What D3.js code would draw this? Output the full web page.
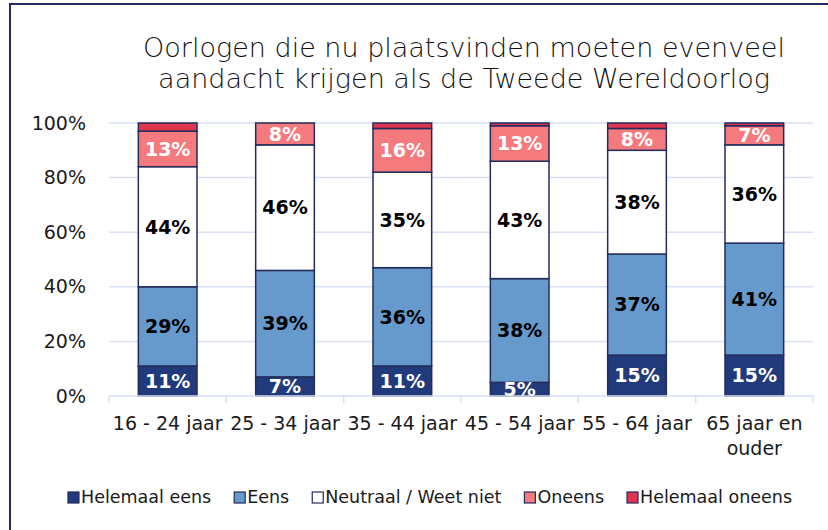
<!DOCTYPE html>
<html>
<head>
<meta charset="utf-8">
<script src="https://cdn.jsdelivr.net/npm/d3@7"></script>
<style>
	body { margin: 0; background: #fff; }
	svg { display: block; font-family: "DejaVu Sans", sans-serif; }
</style>
</head>
<body>
<div id="chart"></div>
<script>
// Data
var categories = ["16 - 24 jaar", "25 - 34 jaar", "35 - 44 jaar", "45 - 54 jaar", "55 - 64 jaar", "65 jaar en ouder"];
var seriesNames = ["Helemaal eens", "Eens", "Neutraal / Weet niet", "Oneens", "Helemaal oneens"];
var helemaalEens = [11, 7, 11, 5, 15, 15];
var eens = [29, 39, 36, 38, 37, 41];
var neutraal = [44, 46, 35, 43, 38, 36];
var oneens = [13, 8, 16, 13, 8, 7];
var helemaalOneens = [3, 0, 2, 1, 2, 1];
var yTicks = [0, 20, 40, 60, 80, 100];
var titleLines = ["Oorlogen die nu plaatsvinden moeten evenveel", "aandacht krijgen als de Tweede Wereldoorlog"];

var seriesValues = [helemaalEens, eens, neutraal, oneens, helemaalOneens];
var colours = ["#213a7b", "#6699cc", "#ffffff", "#f47a7e", "#e0354f"];
var labelColours = ["#ffffff", "#000000", "#000000", "#ffffff", null];

function loadChart() {

	///////////////////////////////////////////////////////////////////////////
	//////////////////////////// Set up the svg ///////////////////////////////
	///////////////////////////////////////////////////////////////////////////

	var svgW = 828,
		svgH = 530;
	var plot = { left: 109, right: 813, top: 123, bottom: 396 };

	var svg = d3.select("#chart")
		.append("svg")
		.attr("width", svgW)
		.attr("height", svgH);

	// Frame of the chart area (only left and top edge are visible)
	svg.append("path")
		.attr("d", "M10," + svgH + "V4H" + svgW)
		.attr("fill", "none")
		.attr("stroke", "#262d5e")
		.attr("stroke-width", 2);

	// Title
	svg.append("g")
		.selectAll("text")
		.data(titleLines)
		.enter()
		.append("text")
		.attr("x", 464)
		.attr("y", function(d, i) { return 57 + i * 31; })
		.attr("text-anchor", "middle")
		.attr("font-size", 27)
		.attr("font-weight", 300)
		.attr("fill", "#111")
		.text(function(d) { return d; });

	///////////////////////////////////////////////////////////////////////////
	//////////////////////////////// Scales ///////////////////////////////////
	///////////////////////////////////////////////////////////////////////////

	var x = d3.scaleBand()
		.domain(categories)
		.range([plot.left, plot.right])
		.paddingInner(0.5)
		.paddingOuter(0.25);

	var y = d3.scaleLinear()
		.domain([0, 100])
		.range([plot.bottom, plot.top]);

	// Gridlines
	svg.append("g")
		.selectAll("line")
		.data(yTicks.filter(function(d) { return d > 0; }))
		.enter()
		.append("line")
		.attr("x1", plot.left)
		.attr("x2", plot.right)
		.attr("y1", function(d) { return y(d); })
		.attr("y2", function(d) { return y(d); })
		.attr("stroke", "#d9dff4")
		.attr("stroke-width", 1.5);

	// Y axis labels
	var yAxis = d3.axisLeft(y)
		.tickValues(yTicks)
		.tickSize(0)
		.tickPadding(23)
		.tickFormat(function(d) { return d + "%"; });

	var gY = svg.append("g")
		.attr("transform", "translate(" + plot.left + ",0)")
		.call(yAxis);
	gY.select(".domain").remove();
	gY.selectAll("text")
		.attr("font-family", "DejaVu Sans, sans-serif")
		.attr("font-size", 19)
		.attr("fill", "#1a1a1a");

	///////////////////////////////////////////////////////////////////////////
	///////////////////////////////// Bars ////////////////////////////////////
	///////////////////////////////////////////////////////////////////////////

	var table = categories.map(function(c, i) {
		var row = { category: c };
		seriesNames.forEach(function(s, j) { row[s] = seriesValues[j][i]; });
		return row;
	});

	var stacked = d3.stack().keys(seriesNames)(table);

	svg.append("clipPath")
		.attr("id", "plot-area")
		.append("rect")
		.attr("x", plot.left)
		.attr("y", 0)
		.attr("width", plot.right - plot.left)
		.attr("height", plot.bottom);

	var layers = svg.append("g")
		.selectAll("g")
		.data(stacked)
		.enter()
		.append("g")
		.attr("fill", function(d, i) { return colours[i]; });

	layers.selectAll("rect")
		.data(function(d) { return d; })
		.enter()
		.append("rect")
		.attr("x", function(d) { return x(d.data.category); })
		.attr("width", x.bandwidth())
		.attr("y", function(d) { return y(d[1]); })
		.attr("height", function(d) { return y(d[0]) - y(d[1]); })
		.attr("stroke", "#232c5c")
		.attr("stroke-width", 1.5);

	// Data labels (clipped at the axis like the original)
	var labels = svg.append("g")
		.attr("clip-path", "url(#plot-area)");

	stacked.forEach(function(layer, i) {
		if (!labelColours[i]) return;
		labels.append("g")
			.selectAll("text")
			.data(layer.filter(function(d) { return d[1] - d[0] > 0; }))
			.enter()
			.append("text")
			.attr("x", function(d) { return x(d.data.category) + x.bandwidth() / 2; })
			.attr("y", function(d) { return y((d[0] + d[1]) / 2); })
			.attr("dy", "0.36em")
			.attr("text-anchor", "middle")
			.attr("font-size", 19)
			.attr("font-weight", "bold")
			.attr("fill", labelColours[i])
			.text(function(d) { return Math.round(d[1] - d[0]) + "%"; });
	});

	///////////////////////////////////////////////////////////////////////////
	//////////////////////////////// X axis ///////////////////////////////////
	///////////////////////////////////////////////////////////////////////////

	var axisColour = "#d9dff4";
	svg.append("line")
		.attr("x1", plot.left)
		.attr("x2", plot.right)
		.attr("y1", plot.bottom)
		.attr("y2", plot.bottom)
		.attr("stroke", axisColour)
		.attr("stroke-width", 1.5);

	// Tick marks between categories
	var boundaries = categories.map(function(c) { return x(c) - x.step() * x.paddingOuter(); });
	boundaries.push(plot.right);
	svg.append("g")
		.selectAll("line")
		.data(boundaries)
		.enter()
		.append("line")
		.attr("x1", function(d) { return d; })
		.attr("x2", function(d) { return d; })
		.attr("y1", plot.bottom)
		.attr("y2", plot.bottom + 7)
		.attr("stroke", axisColour)
		.attr("stroke-width", 1.5);

	// Category labels, the last one is wrapped on two lines
	var wrapped = { "65 jaar en ouder": ["65 jaar en", "ouder"] };
	var xLabels = svg.append("g")
		.selectAll("text")
		.data(categories)
		.enter()
		.append("text")
		.attr("x", function(d) { return x(d) + x.bandwidth() / 2; })
		.attr("y", 430)
		.attr("text-anchor", "middle")
		.attr("font-size", 19)
		.attr("fill", "#1a1a1a");

	xLabels.each(function(d) {
		var lines = wrapped[d] || [d];
		var t = d3.select(this);
		lines.forEach(function(l, i) {
			t.append("tspan")
				.attr("x", t.attr("x"))
				.attr("dy", i === 0 ? 0 : 25)
				.text(l);
		});
	});

	///////////////////////////////////////////////////////////////////////////
	//////////////////////////////// Legend ///////////////////////////////////
	///////////////////////////////////////////////////////////////////////////

	var legend = svg.append("g");
	var items = legend.selectAll("g")
		.data(seriesNames)
		.enter()
		.append("g");

	items.append("rect")
		.attr("x", 0)
		.attr("y", -11)
		.attr("width", 11)
		.attr("height", 11)
		.attr("fill", function(d, i) { return colours[i]; })
		.attr("stroke", "#232c5c")
		.attr("stroke-width", 1.2);

	items.append("text")
		.attr("x", 13)
		.attr("y", 0)
		.attr("font-size", 17.5)
		.attr("fill", "#1a1a1a")
		.text(function(d) { return d; });

	// Lay out the legend items one after the other and centre the row
	var gap = 23;
	var offset = 0;
	items.each(function() {
		var w = d3.select(this).select("text").node().getComputedTextLength();
		d3.select(this).attr("transform", "translate(" + offset + ",0)");
		offset += 13 + w + gap;
	});
	var total = offset - gap;
	legend.attr("transform", "translate(" + (430 - total / 2) + ",503)");
}

loadChart();
</script>
</body>
</html>
